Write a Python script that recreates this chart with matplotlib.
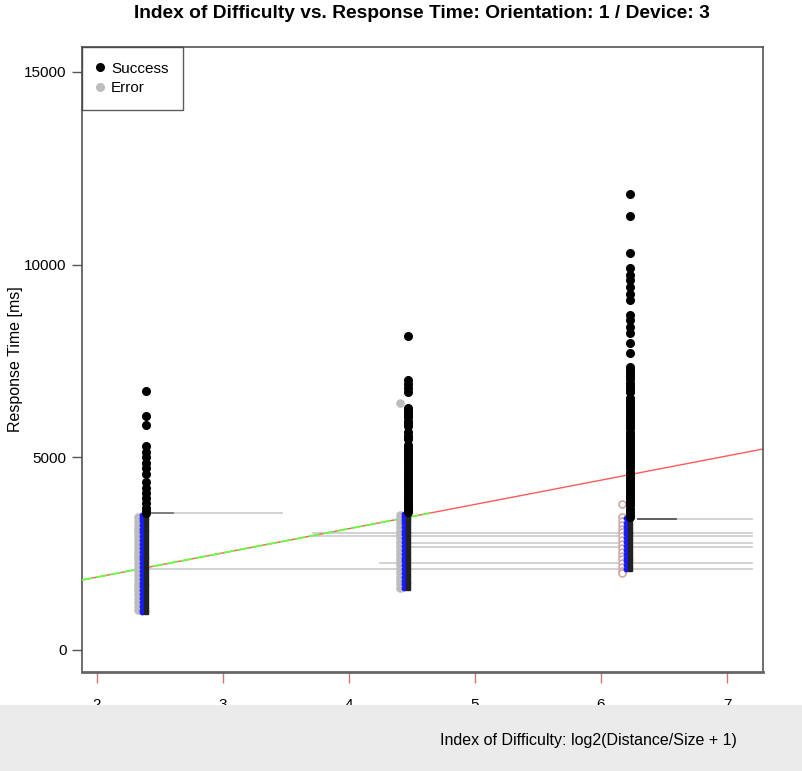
import matplotlib
matplotlib.use("Agg")
import matplotlib.pyplot as plt
from matplotlib.patches import Rectangle

plt.rcParams['font.family'] = ['Liberation Sans', 'DejaVu Sans']

# ---- data ----
id_values = [2.39, 4.47, 6.23]

success_hi = [
    [6730, 6070, 5840, 5290, 5150, 5010, 4860, 4710, 4560, 4370, 4200, 4070,
     3940, 3810, 3680, 3600, 3560],
    [8150, 7000, 6900, 6800, 6700, 6280, 6200, 6120, 6050, 5950, 5880, 5800,
     5650, 5560, 5480, 5320, 5250, 5170, 5090, 5010, 4930, 4850, 4780, 4700,
     4620, 4540, 4470, 4390, 4310, 4230, 4160, 4080, 4000, 3920, 3850, 3770,
     3700, 3630, 3590],
    [11830, 11250, 10300, 9900, 9730, 9600, 9430, 9250, 9080, 8690, 8560,
     8390, 8220, 7960, 7700, 7350, 7270, 7180, 7100, 7020, 6940, 6860, 6780,
     6700, 6550, 6470, 6390, 6310, 6230, 6150, 6070, 5990, 5910, 5830, 5750,
     5670, 5590, 5510, 5430, 5350, 5270, 5190, 5110, 5030, 4950, 4870, 4790,
     4710, 4630, 4550, 4470, 4390, 4310, 4230, 4150, 4070, 3990, 3910, 3830,
     3750, 3670, 3590, 3510, 3460],
]

success_lo = [
    [3500, 3420, 3350, 3250, 3150, 3050, 2950, 2850, 2750, 2650, 2550, 2450,
     2350, 2250, 2150, 2050, 1950, 1850, 1750, 1650, 1550, 1450, 1350, 1250,
     1150, 1050, 980],
    [3540, 3460, 3380, 3300, 3200, 3100, 3000, 2900, 2800, 2700, 2600, 2500,
     2400, 2300, 2200, 2100, 2000, 1900, 1800, 1700, 1620],
    [3420, 3300, 3200, 3100, 3000, 2900, 2800, 2700, 2600, 2500, 2400, 2300,
     2200, 2100],
]

errors = [
    [3450, 3350, 3250, 3150, 3050, 2950, 2850, 2750, 2650, 2550, 2450, 2350,
     2250, 2150, 2050, 1950, 1850, 1750, 1650, 1550, 1450, 1350, 1250, 1150,
     1050],
    [6400, 3500, 3400, 3300, 3200, 3100, 3000, 2900, 2800, 2700, 2600, 2500,
     2400, 2300, 2200, 2100, 2000, 1900, 1800, 1700, 1620],
    [3800, 3450, 3350, 3250, 3150, 3050, 2950, 2850, 2750, 2650, 2550, 2450,
     2350, 2250, 2150, 2050, 1990],
]

fit_intercept = 633
fit_slope = 629

hline_y = [3555, 3392, 3044, 2958, 2769, 2665, 2250, 2102]
hline_x0 = [2.405, 6.294, 3.714, 3.714, 4.380, 4.380, 4.246, 2.405]
hline_x1 = [3.468, 7.198, 7.198, 7.198, 7.198, 7.198, 7.198, 7.198]

title = "Index of Difficulty vs. Response Time: Orientation: 1 / Device: 3"
xlabel = "Index of Difficulty: log2(Distance/Size + 1)"
ylabel = "Response Time [ms]"
xticks = [2, 3, 4, 5, 6, 7]
yticks = [0, 5000, 10000, 15000]

# ---- figure ----
W, H = 802, 771
fig = plt.figure(figsize=(W / 100, H / 100), dpi=100)
ax = fig.add_axes([82 / W, 1 - 672 / H, (763 - 82) / W, (672 - 47) / H])
ax.set_xlim(1.881, 7.286)
ax.set_ylim(-571, 15648)

# horizontal artefact lines
for y, a, b in zip(hline_y, hline_x0, hline_x1):
    ax.plot([a, b], [y, y], color='#cfcfcf', lw=1.3, zorder=1)
ax.plot([hline_x0[0], hline_x0[0] + 0.2], [hline_y[0]] * 2, color='#777777', lw=1.3, zorder=1)
ax.plot([hline_x0[1], hline_x0[1] + 0.3], [hline_y[1]] * 2, color='#555555', lw=1.3, zorder=1)

# regression lines
xl = ax.get_xlim()
ax.plot(xl, [fit_intercept + fit_slope * v for v in xl], color='#ff5a5a', lw=1.0, zorder=2)
xg = [xl[0], 4.64]
ax.plot(xg, [fit_intercept + fit_slope * v for v in xg], color='#66ff44', lw=1.3,
        ls=(0, (6, 2)), zorder=3)

err_face = ['#bdbdbd', '#bdbdbd', 'white']
err_edge = ['#bdbdbd', '#bdbdbd', '#d0a8a8']
for i, (xv, hi, lo, er) in enumerate(zip(id_values, success_hi, success_lo, errors)):
    ax.plot([xv - 0.065] * len(er), er, 'o', ms=5.0, mfc=err_face[i], mec=err_edge[i],
            mew=1.2, zorder=4)
    ax.plot([xv - 0.035] * len(lo), lo, 'o', ms=3.2, color='#1a1aff', mec='#1a1aff',
            zorder=5)
    ax.plot([xv] * len(lo), lo, 's', ms=2.5, color='#222222', zorder=5)
    ax.plot([xv] * len(hi), hi, 'o', ms=5.5, color='black', zorder=6)

ax.set_xticks(xticks)
ax.set_yticks(yticks)
ax.tick_params(axis='y', direction='out', length=7, width=1, labelsize=11,
               color='#555555', pad=4)
ax.tick_params(axis='x', direction='out', length=8, width=1, labelsize=11,
               color='#cc7777', pad=11)
ax.set_yticklabels([str(t) for t in yticks])
for s in ax.spines.values():
    s.set_color('#555555')
    s.set_linewidth(1.2)
ax.spines['bottom'].set_color('#666666')
ax.spines['bottom'].set_linewidth(2)

ax.set_ylabel(ylabel, fontsize=11.5, labelpad=1)
fig.text(422 / W, 1 - 14 / H, title, ha='center', va='center', fontsize=13.8,
         fontweight='bold')

# legend
h1, = ax.plot([], [], 'o', ms=5.5, color='black', label='Success')
h2, = ax.plot([], [], 'o', ms=5.5, color='#bdbdbd', label='Error')
leg = ax.legend(handles=[h1, h2], loc='upper left', fontsize=11, frameon=True,
                fancybox=False, borderaxespad=0, handlelength=0.5,
                handletextpad=0.45, borderpad=0.95, labelspacing=0.38)
leg.get_frame().set_edgecolor('#333333')
leg.get_frame().set_linewidth(1)

# grey band at the bottom
fig.patches.append(Rectangle((0, 0), 1, 1 - 705 / H, transform=fig.transFigure,
                             facecolor='#ebebeb', edgecolor='none', zorder=10))
fig.text(588 / W, 1 - 741 / H, xlabel, ha='center', va='center', fontsize=11.5,
         zorder=11)

fig.savefig('out.png', dpi=100)
